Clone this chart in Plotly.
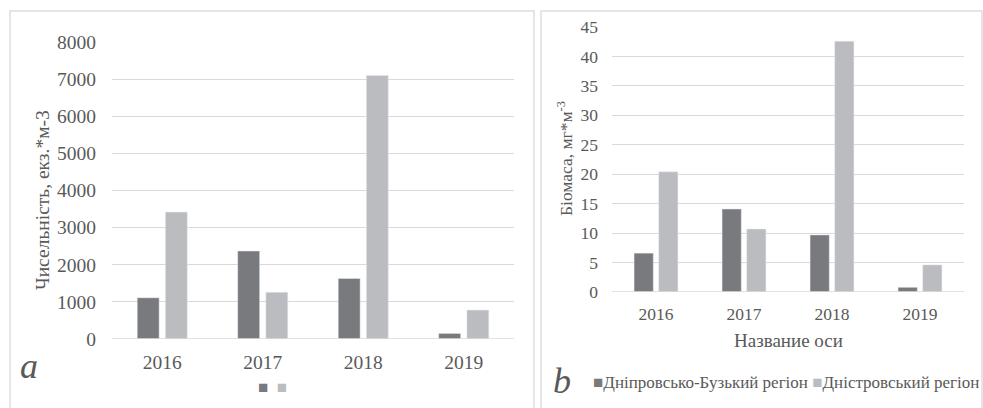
import plotly.graph_objects as go

# Data
years = ["2016", "2017", "2018", "2019"]
abundance_dnipro = [1110, 2370, 1630, 150]
abundance_dnister = [3420, 1260, 7100, 780]
biomass_dnipro = [6.6, 14.1, 9.7, 0.8]
biomass_dnister = [20.4, 10.7, 42.6, 4.6]
series_names = ["Дніпровсько-Бузький регіон", "Дністровський регіон"]

W, H = 983, 408
DARK = "#797a7e"
LIGHT = "#bbbcc0"
TEXT = "#595959"
GRID = "#d9d9d9"
FONT = "Liberation Serif"


def px_x(p):
    return p / W


def px_y(p):
    return 1 - p / H


fig = go.Figure()

# Panel a: abundance
fig.add_trace(go.Bar(x=years, y=abundance_dnipro, name=series_names[0], marker_color=DARK,
                     xaxis="x", yaxis="y", showlegend=False))
fig.add_trace(go.Bar(x=years, y=abundance_dnister, name=series_names[1], marker_color=LIGHT,
                     xaxis="x", yaxis="y", showlegend=False))

# Panel b: biomass
fig.add_trace(go.Bar(x=years, y=biomass_dnipro, name=series_names[0], marker_color=DARK,
                     xaxis="x2", yaxis="y2", showlegend=False))
fig.add_trace(go.Bar(x=years, y=biomass_dnister, name=series_names[1], marker_color=LIGHT,
                     xaxis="x2", yaxis="y2", showlegend=False))


def tfont(size, color=TEXT):
    return dict(family=FONT, color=color, size=size)


fig.update_layout(
    width=W, height=H,
    margin=dict(l=0, r=0, t=0, b=0, autoexpand=False),
    paper_bgcolor="white", plot_bgcolor="white",
    barmode="group",
    bargap=0.44, bargroupgap=0.22,
    font=dict(family=FONT, color=TEXT),
    showlegend=False,
    xaxis=dict(domain=[px_x(112), px_x(514)], anchor="y", automargin=False,
               showline=False, zeroline=False, ticks="", showgrid=False,
               tickfont=tfont(19.5), ticklabelstandoff=9),
    yaxis=dict(domain=[px_y(339), px_y(42)], anchor="x", automargin=False,
               range=[0, 8000], dtick=1000,
               showline=False, zeroline=False, ticks="",
               showgrid=True, gridcolor=GRID, gridwidth=1,
               tickfont=tfont(19.5), ticklabelstandoff=15),
    xaxis2=dict(domain=[px_x(612), px_x(964)], anchor="y2", automargin=False,
                showline=False, zeroline=False, ticks="", showgrid=False,
                tickfont=tfont(17.5), ticklabelstandoff=9),
    yaxis2=dict(domain=[px_y(292), px_y(27)], anchor="x2", automargin=False,
                range=[0, 45], dtick=5,
                showline=False, zeroline=False, ticks="",
                showgrid=True, gridcolor=GRID, gridwidth=1,
                tickfont=tfont(17.5), ticklabelstandoff=13),
)

# x-axis baselines
fig.add_shape(type="line", xref="x domain", yref="y", x0=0, x1=1, y0=0, y1=0,
              line=dict(color=GRID, width=1.5))
fig.add_shape(type="line", xref="x2 domain", yref="y2", x0=0, x1=1, y0=0, y1=0,
              line=dict(color=GRID, width=1.5))

# Panel frames
fig.add_shape(type="rect", xref="paper", yref="paper",
              x0=px_x(10), x1=px_x(534), y0=-0.05, y1=px_y(11),
              line=dict(color="#dedede", width=1.5), layer="below")
fig.add_shape(type="rect", xref="paper", yref="paper",
              x0=px_x(541), x1=px_x(982), y0=-0.05, y1=px_y(11),
              line=dict(color="#dedede", width=1.5), layer="below")


def label(text, x, y, size, angle=0, xanchor="center", color=TEXT):
    fig.add_annotation(text=text, xref="paper", yref="paper",
                       x=px_x(x), y=px_y(y), xanchor=xanchor, yanchor="middle",
                       textangle=angle, showarrow=False, font=tfont(size, color))


# Axis titles
label("Чисельність, екз.*м-3", 42, 200, 19.5, angle=-90)
label("Біомаса, мг*м<sup>-3</sup>", 565, 159, 17.5, angle=-90)
label("Название оси", 788, 340, 19)

# Legends
sq = "■"
label(f"<span style='color:{DARK}'>{sq}</span>&nbsp;&nbsp;"
      f"<span style='color:{LIGHT}'>{sq}</span>", 272.5, 387, 17)
label(f"<span style='color:{DARK}'>{sq}</span>{series_names[0]} "
      f"<span style='color:{LIGHT}'>{sq}</span>{series_names[1]}",
      591, 382, 17, xanchor="left")

# Panel letters
label("<i>a</i>", 29, 366, 36)
label("<i>b</i>", 562, 381, 36)

fig.write_html("out.html")
